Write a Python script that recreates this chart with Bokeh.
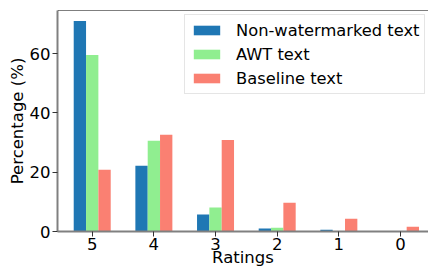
from bokeh.plotting import figure
from bokeh.models import (ColumnDataSource, Range1d, FixedTicker, Legend, LegendItem, Span)
from bokeh.transform import dodge
from bokeh.embed import file_html
from bokeh.resources import INLINE

# ---- data ----
ratings = ["5", "4", "3", "2", "1", "0"]
non_watermarked = [71.0, 22.2, 5.7, 1.0, 0.6, 0.1]
awt = [59.5, 30.6, 8.1, 1.3, 0.2, 0.1]
baseline = [20.8, 32.6, 30.9, 9.7, 4.3, 1.6]
series_names = ["Non-watermarked text", "AWT text", "Baseline text"]
colors = ["#1f77b4", "#90ee90", "#fa8072"]

pos = list(range(len(ratings)))
src = ColumnDataSource(dict(pos=pos, nw=non_watermarked, awt=awt, base=baseline))

FONT = "DejaVu Sans"
ymax = max(non_watermarked + awt + baseline) * 1.05

p = figure(width=428, height=269, output_backend="svg", toolbar_location=None,
           x_range=Range1d(-0.563, 5.454), y_range=Range1d(0, ymax),
           min_border_left=57, min_border_right=0, min_border_top=10, min_border_bottom=37)
p.title.visible = False

bw = 0.2
r1 = p.vbar(x=dodge("pos", -bw, range=p.x_range), top="nw", width=bw, bottom=0,
            source=src, fill_color=colors[0], line_color=None)
r2 = p.vbar(x=dodge("pos", 0.0, range=p.x_range), top="awt", width=bw, bottom=0,
            source=src, fill_color=colors[1], line_color=None)
r3 = p.vbar(x=dodge("pos", bw, range=p.x_range), top="base", width=bw, bottom=0,
            source=src, fill_color=colors[2], line_color=None)

p.xgrid.visible = False
p.ygrid.visible = False
p.outline_line_color = None

# top spine
p.add_layout(Span(location=ymax, dimension="width", line_color="black", line_width=1.2))

for ax in (p.xaxis[0], p.yaxis[0]):
    ax.axis_line_color = "#808080"
    ax.axis_line_width = 2
    ax.major_tick_line_color = "#333333"
    ax.major_tick_line_width = 1
    ax.major_tick_out = 5
    ax.major_tick_in = 0
    ax.minor_tick_line_color = None
    ax.major_label_text_font = FONT
    ax.major_label_text_font_size = "16.5px"
    ax.major_label_text_color = "black"
    ax.axis_label_text_font = FONT
    ax.axis_label_text_font_size = "16.5px"
    ax.axis_label_text_font_style = "normal"
    ax.axis_label_text_color = "black"

p.xaxis.ticker = FixedTicker(ticks=pos)
p.xaxis.major_label_overrides = {i: r for i, r in zip(pos, ratings)}
p.xaxis.major_label_standoff = 1
p.xaxis.axis_label = "Ratings"
p.xaxis.axis_label_standoff = -5

p.yaxis.ticker = FixedTicker(ticks=[0, 20, 40, 60])
p.yaxis.major_label_standoff = 2
p.yaxis.axis_label = "Percentage (%)"
p.yaxis.axis_label_standoff = 0

legend = Legend(items=[LegendItem(label=series_names[0], renderers=[r1]),
                       LegendItem(label=series_names[1], renderers=[r2]),
                       LegendItem(label=series_names[2], renderers=[r3])],
                location=(127, 137))
legend.glyph_width = 33
legend.glyph_height = 12
legend.label_standoff = 13
legend.label_text_font = FONT
legend.label_text_font_size = "16.3px"
legend.label_text_color = "black"
legend.label_height = 20
legend.padding = 5
legend.spacing = 4
legend.margin = 0
legend.border_line_color = "#cccccc"
legend.border_line_width = 1
legend.background_fill_alpha = 0.8
p.add_layout(legend)

open("out.html", "w").write(file_html(p, INLINE))
